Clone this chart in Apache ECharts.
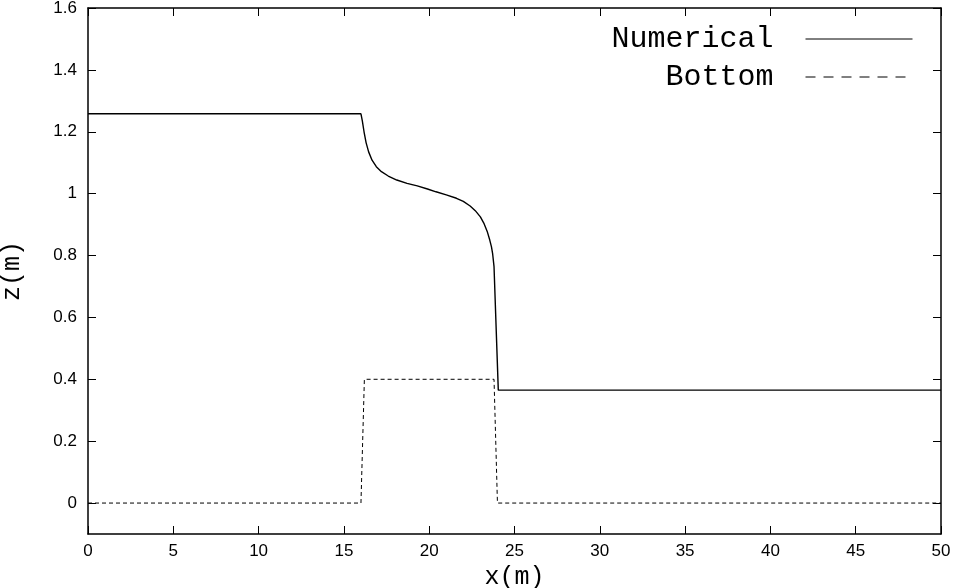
<!DOCTYPE html>
<html>
<head>
<meta charset="utf-8">
<script src="https://cdn.jsdelivr.net/npm/echarts@6/dist/echarts.min.js"></script>
<style>html,body{margin:0;padding:0;background:#fff;}#c{width:955px;height:588px;}</style>
</head>
<body>
<div id="c"></div>
<script>
var numX = [0, 16.0, 16.08, 16.18, 16.3, 16.45, 16.65, 16.9, 17.2, 17.6, 18.1, 18.7, 19.3, 19.9, 20.4, 21.0, 21.6, 22.0, 22.4, 22.7, 23.0, 23.2, 23.4, 23.55, 23.65, 23.72, 23.8, 24.05, 50];
var numY = [1.258, 1.258, 1.235, 1.2, 1.165, 1.135, 1.108, 1.087, 1.071, 1.057, 1.044, 1.033, 1.025, 1.015, 1.006, 0.996, 0.985, 0.975, 0.96, 0.945, 0.925, 0.905, 0.878, 0.85, 0.828, 0.805, 0.764, 0.365, 0.365];
var botX = [0, 16.0, 16.2, 23.8, 24.0, 50];
var botY = [0, 0, 0.4, 0.4, 0, 0];
var yTicks = [0, 0.2, 0.4, 0.6, 0.8, 1.0, 1.2, 1.4, 1.6];

function pairs(xs, ys){ return xs.map(function(x,i){ return [x, ys[i]]; }); }

var chart = echarts.init(document.getElementById('c'), null, {renderer:'canvas'});
var lineAxis = {show:true, onZero:false, lineStyle:{color:'#000', width:1.5}};
var tick = {show:true, inside:true, length:8, lineStyle:{color:'#000', width:1}};
var lab = {color:'#000', fontFamily:'Liberation Sans, Arial, sans-serif', fontSize:17};
chart.setOption({
  animation:false,
  backgroundColor:'#fff',
  grid:{left:88, right:14, top:8, bottom:54, containLabel:false, outerBoundsMode:'none'},
  legend:{
    orient:'vertical', right:37, top:19, align:'right', itemGap:8,
    itemWidth:107, itemHeight:14,
    itemStyle:{opacity:0},
    textStyle:{fontFamily:'Liberation Mono, monospace', fontSize:30, color:'#000', lineHeight:30, padding:[0,27,0,0]},
    data:[
      {name:'Numerical', lineStyle:{width:1}},
      {name:'Bottom', lineStyle:{width:1, type:[10,8]}}
    ]
  },
  xAxis:[
    {type:'value', min:0, max:50, interval:5, position:'bottom',
     name:'x(m)', nameLocation:'middle', nameGap:31,
     nameTextStyle:{fontFamily:'Liberation Mono, monospace', fontSize:25, color:'#000'},
     axisLine:lineAxis, axisTick:tick, splitLine:{show:false},
     axisLabel:Object.assign({margin:9}, lab)},
    {type:'value', min:0, max:50, interval:5, position:'top',
     axisLine:lineAxis, axisTick:tick, splitLine:{show:false}, axisLabel:{show:false}}
  ],
  yAxis:[
    {type:'value', min:-0.1, max:1.6, position:'left',
     name:'z(m)', nameLocation:'middle', nameGap:63, nameRotate:90,
     nameTextStyle:{fontFamily:'Liberation Mono, monospace', fontSize:25, color:'#000'},
     axisLine:lineAxis,
     axisTick:Object.assign({customValues:yTicks}, tick),
     splitLine:{show:false},
     axisLabel:Object.assign({margin:11, customValues:yTicks}, lab)},
    {type:'value', min:-0.1, max:1.6, position:'right',
     axisLine:lineAxis,
     axisTick:Object.assign({customValues:yTicks}, tick),
     splitLine:{show:false}, axisLabel:{show:false}}
  ],
  series:[
    {name:'Numerical', type:'line', symbol:'none', data:pairs(numX, numY),
     lineStyle:{color:'#000', width:1.4}, itemStyle:{color:'#000'}},
    {name:'Bottom', type:'line', symbol:'none', data:pairs(botX, botY),
     lineStyle:{color:'#000', width:1, type:[4,3]}, itemStyle:{color:'#000'}}
  ]
});
</script>
</body>
</html>
